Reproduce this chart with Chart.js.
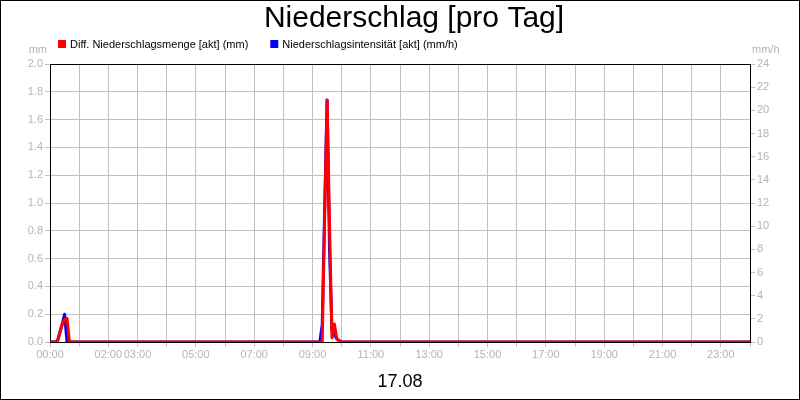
<!DOCTYPE html>
<html>
<head>
<meta charset="utf-8">
<script src="https://cdn.jsdelivr.net/npm/chart.js@4"></script>
<style>
html, body { margin: 0; padding: 0; background: #fff; }
#wrap { width: 800px; height: 400px; }
</style>
</head>
<body>
<div id="wrap"><canvas id="chart" width="800" height="400"></canvas></div>
<script>
const chartTitle = 'Niederschlag [pro Tag]'
const dayLabel = '17.08'
const seriesLabels = ['Diff. Niederschlagsmenge [akt] (mm)', 'Niederschlagsintensität [akt] (mm/h)']
const unitLeft = 'mm'
const unitRight = 'mm/h'

// 5-minute readings; only the rainy stretches are listed, the rest of the day is 0
const times = ['00:00', '00:15', '00:20', '00:25', '00:30', '00:35', '00:40',
    '09:15', '09:20', '09:25', '09:30', '09:35', '09:40', '09:45', '09:50', '09:55', '10:00', '24:00']
const amountMm = [0, 0, 0.06, 0.13, 0.16, 0.17, 0,
    0, 0, 0.9, 1.74, 0.85, 0.03, 0.13, 0.02, 0.01, 0, 0]
const intensityMmH = [0, 0, 0.8, 1.5, 2.4, 0, 0,
    0, 1.5, 11.5, 20.9, 8, 1.0, 0.6, 0.3, 0.1, 0, 0]

const xTickHours = [0, 2, 3, 5, 7, 9, 11, 13, 15, 17, 19, 21, 23]

const FONT = 'Liberation Sans, Arial, sans-serif'
const GRAY = '#b4b4b4'
const GRID = '#c0c0c0'

function toHours(t) {
    const p = t.split(':')
    return Number(p[0]) + Number(p[1]) / 60
}

function toPoints(values) {
    return values.map((v, i) => ({ x: toHours(times[i]), y: v }))
}

function pad2(n) {
    return (n < 10 ? '0' : '') + n
}

const decorations = {
    id: 'decorations',
    beforeDraw(chart) {
        const ctx = chart.ctx
        ctx.save()
        ctx.fillStyle = '#fff'
        ctx.fillRect(0, 0, chart.width, chart.height)
        ctx.restore()
    },
    beforeDatasetsDraw(chart) {
        const ctx = chart.ctx
        const a = chart.chartArea
        ctx.save()
        ctx.strokeStyle = '#000'
        ctx.lineWidth = 1
        ctx.strokeRect(Math.round(a.left) + 0.5, Math.round(a.top) + 0.5,
            Math.round(a.right - a.left), Math.round(a.bottom - a.top))
        ctx.restore()
    },
    afterDraw(chart) {
        const ctx = chart.ctx
        ctx.save()
        // title
        ctx.fillStyle = '#000'
        ctx.font = '30px ' + FONT
        ctx.textAlign = 'center'
        ctx.textBaseline = 'alphabetic'
        ctx.fillText(chartTitle, 414, 27)
        // day label
        ctx.font = '18px ' + FONT
        ctx.fillText(dayLabel, 400, 387)
        // units
        ctx.font = '11px ' + FONT
        ctx.fillStyle = GRAY
        ctx.textAlign = 'right'
        ctx.fillText(unitLeft, 47, 53)
        ctx.textAlign = 'left'
        ctx.fillText(unitRight, 752, 53)
        // legend
        let x = 58
        chart.data.datasets.forEach(ds => {
            ctx.fillStyle = ds.borderColor
            ctx.fillRect(x, 40, 8, 8)
            ctx.fillStyle = '#000'
            ctx.textAlign = 'left'
            ctx.fillText(ds.label, x + 12, 48)
            x += 12 + ctx.measureText(ds.label).width + 22
        })
        // outer frame
        ctx.strokeStyle = '#000'
        ctx.lineWidth = 1
        ctx.strokeRect(0.5, 0.5, chart.width - 1, chart.height - 1)
        ctx.restore()
    }
}

const ctx = document.getElementById('chart').getContext('2d')
const chart = new Chart(ctx, {
    type: 'line',
    data: {
        datasets: [{
            label: seriesLabels[0],
            data: toPoints(amountMm),
            borderColor: '#ff0000',
            backgroundColor: '#ff0000',
            borderWidth: 3,
            borderJoinStyle: 'round',
            pointRadius: 0,
            tension: 0,
            fill: false,
            yAxisID: 'yLeft'
        }, {
            label: seriesLabels[1],
            data: toPoints(intensityMmH),
            borderColor: '#0000ff',
            backgroundColor: '#0000ff',
            borderWidth: 3,
            borderJoinStyle: 'round',
            pointRadius: 0,
            tension: 0,
            fill: false,
            yAxisID: 'yRight'
        }]
    },
    options: {
        responsive: false,
        animation: false,
        layout: { padding: { top: 64, left: 0, right: 0, bottom: 0 } },
        plugins: {
            legend: { display: false },
            title: { display: false },
            tooltip: { enabled: false }
        },
        scales: {
            x: {
                type: 'linear',
                min: 0,
                max: 24,
                afterFit: s => { s.height = 58 },
                ticks: {
                    stepSize: 1,
                    autoSkip: false,
                    maxRotation: 0,
                    padding: 1,
                    color: GRAY,
                    font: { family: FONT, size: 11 },
                    callback: v => xTickHours.includes(v) ? pad2(v) + ':00' : ''
                },
                grid: { color: GRID, tickColor: GRID, tickLength: 5 },
                border: { color: '#000', width: 1 }
            },
            yLeft: {
                position: 'left',
                min: 0,
                max: 2,
                afterFit: s => { s.width = 50 },
                ticks: {
                    stepSize: 0.2,
                    padding: 2,
                    color: GRAY,
                    font: { family: FONT, size: 11 },
                    callback: v => Number(v).toFixed(1)
                },
                grid: { color: GRID, tickColor: GRID, tickLength: 5 },
                border: { color: '#000', width: 1 }
            },
            yRight: {
                position: 'right',
                min: 0,
                max: 24,
                afterFit: s => { s.width = 50 },
                ticks: {
                    stepSize: 2,
                    padding: 2,
                    color: GRAY,
                    font: { family: FONT, size: 11 }
                },
                grid: { drawOnChartArea: false, color: GRID, tickColor: GRID, tickLength: 5 },
                border: { color: '#000', width: 1 }
            }
        }
    },
    plugins: [decorations]
})
</script>
</body>
</html>
